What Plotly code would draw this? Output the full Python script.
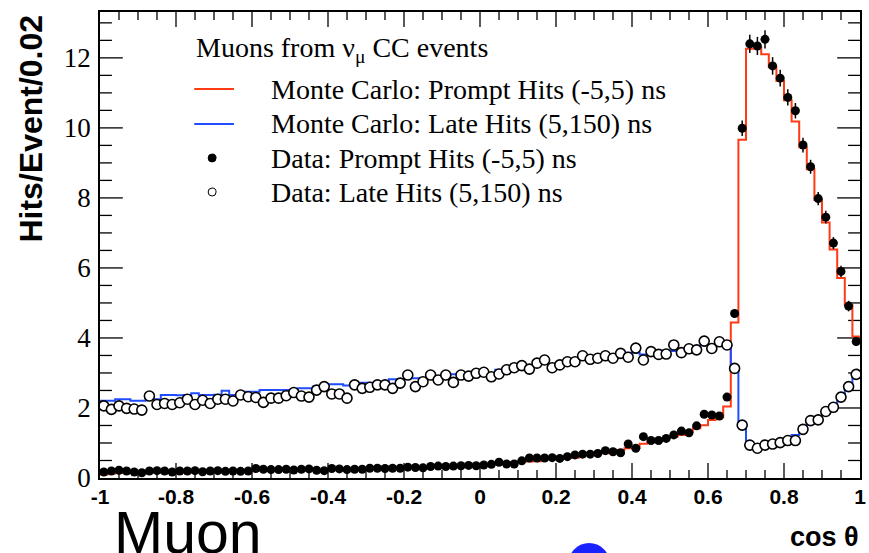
import numpy as np
import plotly.graph_objects as go

# ---------------- data (cos theta bins of width 0.02 from -1 to 1) ----------------
bin_low = -1.0
bin_width = 0.02
n_bins = 100

mc_prompt = [
    0.10, 0.13, 0.14, 0.14, 0.14, 0.14, 0.15, 0.15, 0.15, 0.15,
    0.15, 0.15, 0.16, 0.16, 0.16, 0.16, 0.17, 0.17, 0.17, 0.17,
    0.21, 0.21, 0.21, 0.21, 0.21, 0.21, 0.21, 0.21, 0.22, 0.22,
    0.25, 0.25, 0.25, 0.27, 0.28, 0.28, 0.28, 0.32, 0.32, 0.32,
    0.31, 0.31, 0.32, 0.32, 0.32, 0.34, 0.34, 0.34, 0.37, 0.38,
    0.39, 0.39, 0.40, 0.45, 0.46, 0.47, 0.47, 0.48, 0.53, 0.55,
    0.56, 0.57, 0.58, 0.66, 0.68, 0.70, 0.71, 0.72, 0.80, 0.85,
    0.86, 0.98, 1.02, 1.06, 1.14, 1.18, 1.23, 1.32, 1.42, 1.51,
    1.66, 1.73, 2.04, 4.44, 9.66, 12.26, 12.30, 12.10, 11.73, 11.34,
    10.79, 10.18, 9.45, 8.82, 7.94, 7.30, 6.53, 5.71, 4.94, 4.04,
]

mc_late = [
    2.21, 2.21, 2.25, 2.25, 2.21, 2.21, 2.25, 2.25, 2.37, 2.37,
    2.36, 2.37, 2.42, 2.37, 2.37, 2.38, 2.49, 2.37, 2.44, 2.46,
    2.46, 2.51, 2.51, 2.51, 2.51, 2.52, 2.56, 2.56, 2.61, 2.62,
    2.68, 2.68, 2.64, 2.72, 2.72, 2.72, 2.72, 2.72, 2.82, 2.82,
    2.85, 2.85, 2.78, 2.91, 2.91, 2.96, 2.96, 2.93, 2.99, 3.04,
    3.03, 2.95, 3.09, 3.09, 3.15, 3.15, 3.15, 3.32, 3.28, 3.23,
    3.23, 3.35, 3.35, 3.39, 3.39, 3.45, 3.45, 3.40, 3.51, 3.58,
    3.58, 3.53, 3.61, 3.61, 3.64, 3.63, 3.66, 3.72, 3.77, 3.82,
    3.72, 3.82, 3.77, 3.09, 1.58, 0.94, 0.93, 0.93, 0.95, 0.99,
    1.10, 1.23, 1.47, 1.61, 1.75, 1.90, 2.09, 2.32, 2.56, 2.91,
]

data_prompt = [
    0.17, 0.20, 0.22, 0.20, 0.17, 0.15, 0.20, 0.21, 0.20, 0.17,
    0.20, 0.20, 0.21, 0.18, 0.20, 0.21, 0.19, 0.20, 0.19, 0.20,
    0.27, 0.25, 0.24, 0.24, 0.25, 0.23, 0.25, 0.26, 0.22, 0.21,
    0.27, 0.26, 0.24, 0.25, 0.25, 0.28, 0.28, 0.27, 0.28, 0.28,
    0.31, 0.30, 0.29, 0.33, 0.34, 0.33, 0.34, 0.35, 0.36, 0.35,
    0.37, 0.39, 0.45, 0.40, 0.40, 0.49, 0.57, 0.57, 0.57, 0.58,
    0.56, 0.61, 0.66, 0.68, 0.68, 0.70, 0.78, 0.75, 0.72, 0.97,
    0.85, 1.18, 1.07, 1.07, 1.13, 1.23, 1.34, 1.29, 1.49, 1.82,
    1.80, 1.77, 2.31, 4.70, 9.99, 12.40, 12.34, 12.53, 11.77, 11.42,
    10.87, 10.49, 9.51, 8.89, 7.98, 7.45, 6.71, 5.90, 4.91, 3.90,
]

data_prompt_err = [
    0.02, 0.02, 0.02, 0.02, 0.02, 0.02, 0.02, 0.02, 0.02, 0.02,
    0.02, 0.02, 0.02, 0.02, 0.02, 0.02, 0.02, 0.02, 0.02, 0.02,
    0.02, 0.02, 0.02, 0.02, 0.02, 0.02, 0.02, 0.02, 0.02, 0.02,
    0.02, 0.02, 0.02, 0.02, 0.02, 0.02, 0.02, 0.02, 0.02, 0.02,
    0.02, 0.02, 0.02, 0.02, 0.02, 0.02, 0.02, 0.02, 0.02, 0.02,
    0.02, 0.02, 0.02, 0.02, 0.02, 0.02, 0.02, 0.02, 0.02, 0.02,
    0.03, 0.03, 0.03, 0.03, 0.03, 0.03, 0.03, 0.03, 0.03, 0.03,
    0.03, 0.03, 0.03, 0.03, 0.03, 0.05, 0.05, 0.05, 0.05, 0.05,
    0.05, 0.05, 0.05, 0.10, 0.22, 0.26, 0.26, 0.26, 0.25, 0.24,
    0.23, 0.22, 0.21, 0.20, 0.19, 0.18, 0.17, 0.16, 0.15, 0.13,
]

data_late = [
    2.06, 1.96, 2.06, 1.99, 1.97, 1.94, 2.34, 2.10, 2.13, 2.10,
    2.15, 2.25, 2.10, 2.22, 2.13, 2.25, 2.25, 2.20, 2.37, 2.32,
    2.30, 2.16, 2.28, 2.28, 2.35, 2.44, 2.34, 2.31, 2.51, 2.61,
    2.40, 2.40, 2.28, 2.66, 2.56, 2.59, 2.66, 2.66, 2.56, 2.71,
    2.94, 2.61, 2.75, 2.94, 2.80, 2.94, 2.73, 2.94, 2.91, 2.99,
    3.02, 2.89, 2.97, 3.09, 3.15, 3.21, 3.11, 3.28, 3.37, 3.15,
    3.23, 3.32, 3.32, 3.49, 3.39, 3.42, 3.49, 3.42, 3.56, 3.45,
    3.71, 3.37, 3.61, 3.53, 3.54, 3.80, 3.58, 3.69, 3.66, 3.91,
    3.70, 3.89, 3.80, 3.13, 1.51, 0.94, 0.85, 0.94, 0.97, 1.01,
    1.07, 1.07, 1.39, 1.64, 1.66, 1.90, 2.02, 2.31, 2.61, 2.96,
]

x_tick_vals = [-1, -0.8, -0.6, -0.4, -0.2, 0, 0.2, 0.4, 0.6, 0.8, 1]
x_tick_text = ["-1", "-0.8", "-0.6", "-0.4", "-0.2", "0", "0.2", "0.4", "0.6", "0.8", "1"]
y_tick_vals = [0, 2, 4, 6, 8, 10, 12]
y_tick_text = ["0", "2", "4", "6", "8", "10", "12"]
x_minor_step = 0.05
y_minor_step = 0.5

legend_title = "Muons from \u03bd<sub>\u03bc</sub> CC events"
names = [
    "Monte Carlo: Prompt Hits (-5,5) ns",
    "Monte Carlo: Late Hits (5,150) ns",
    "Data: Prompt Hits (-5,5) ns",
    "Data: Late Hits (5,150) ns",
]

for arr in (mc_prompt, mc_late, data_prompt, data_prompt_err, data_late):
    assert len(arr) == n_bins

edges = np.round(bin_low + bin_width * np.arange(n_bins + 1), 4)
centers = np.round(bin_low + bin_width * (np.arange(n_bins) + 0.5), 4)
X_MIN, X_MAX = -1.0, 1.0
Y_MIN, Y_MAX = 0.0, 13.31
x_minor_vals = [float(v) for v in np.round(np.arange(-1, 1.0001, x_minor_step), 4)
                if abs(v / 0.2 - round(v / 0.2)) > 1e-6 and -1 < v < 1]
y_minor_vals = [float(v) for v in np.round(np.arange(0, Y_MAX, y_minor_step), 4) if v % 2 != 0]

RED = "#ff3a14"
BLUE = "#1f4cff"

W, H = 869, 553
L, R, T, B = 100, 3, 12, 75
pw, ph = W - L - R, H - T - B
x_per_px = (X_MAX - X_MIN) / pw
y_per_px = (Y_MAX - Y_MIN) / ph

def px2x(px):
    return (px - L) / pw

def py2y(py):
    return (H - B - py) / ph

fig = go.Figure()

# ---- tick marks (ROOT style, inward on all four sides), built from the tick values ----
def x_tick_segments(vals, length_px):
    xs, ys = [], []
    d = length_px * y_per_px
    for v in vals:
        xs += [v, v, None, v, v, None]
        ys += [Y_MIN, Y_MIN + d, None, Y_MAX, Y_MAX - d, None]
    return xs, ys

def y_tick_segments(vals, length_px):
    xs, ys = [], []
    d = length_px * x_per_px
    for v in vals:
        xs += [X_MIN, X_MIN + d, None, X_MAX, X_MAX - d, None]
        ys += [v, v, None, v, v, None]
    return xs, ys

tick_sets = [
    x_tick_segments([v for v in x_tick_vals if X_MIN < v < X_MAX], 15),
    x_tick_segments(x_minor_vals, 8),
    y_tick_segments([v for v in y_tick_vals if v > Y_MIN], 23),
    y_tick_segments(y_minor_vals, 12),
]
for xs, ys in tick_sets:
    fig.add_trace(go.Scatter(
        x=xs, y=ys, mode="lines", line=dict(color="black", width=1.3),
        hoverinfo="skip", showlegend=False, cliponaxis=False,
    ))

fig.add_trace(go.Scatter(
    x=edges, y=list(mc_prompt) + [mc_prompt[-1]], mode="lines", line_shape="hv",
    line=dict(color=RED, width=2), name=names[0], showlegend=False,
))
fig.add_trace(go.Scatter(
    x=edges, y=list(mc_late) + [mc_late[-1]], mode="lines", line_shape="hv",
    line=dict(color=BLUE, width=2), name=names[1], showlegend=False,
))
fig.add_trace(go.Scatter(
    x=centers, y=data_late, mode="markers",
    marker=dict(symbol="circle", size=10, color="white", line=dict(color="black", width=1.6)),
    name=names[3], showlegend=False,
))
fig.add_trace(go.Scatter(
    x=centers, y=data_prompt, mode="markers",
    error_y=dict(type="data", array=data_prompt_err, visible=True, color="black", thickness=1.5, width=0),
    marker=dict(symbol="circle", size=9, color="black"),
    name=names[2], showlegend=False,
))

fig.update_layout(
    width=W, height=H,
    margin=dict(l=L, r=R, t=T, b=B, pad=0),
    paper_bgcolor="white", plot_bgcolor="white",
    showlegend=False,
    xaxis=dict(
        range=[X_MIN, X_MAX], tickmode="array", tickvals=x_tick_vals, ticktext=x_tick_text,
        ticks="", showline=True, linecolor="black", linewidth=1.5, mirror=True,
        showgrid=False, zeroline=False, ticklabeloverflow="allow", ticklabelstandoff=-1,
        tickfont=dict(family="Liberation Sans", size=21, color="black", weight="bold"),
    ),
    yaxis=dict(
        range=[Y_MIN, Y_MAX], tickmode="array", tickvals=y_tick_vals, ticktext=y_tick_text,
        ticks="", showline=True, linecolor="black", linewidth=1.5, mirror=True,
        showgrid=False, zeroline=False, ticklabeloverflow="allow", ticklabelstandoff=2,
        tickfont=dict(family="Liberation Serif", size=27, color="black"),
    ),
)

# ---- legend (drawn as annotations and shapes to match the original layout) ----
LEG_FONT = dict(family="Liberation Serif", size=28, color="black")
fig.add_annotation(
    text=legend_title, showarrow=False, xref="paper", yref="paper",
    x=px2x(195), y=py2y(50), xanchor="left", yanchor="middle", font=LEG_FONT,
)
row_y = [89, 124, 158, 192]
for name, ry in zip(names, row_y):
    fig.add_annotation(
        text=name, showarrow=False, xref="paper", yref="paper",
        x=px2x(270), y=py2y(ry), xanchor="left", yanchor="middle", font=LEG_FONT,
    )
fig.add_shape(type="line", xref="paper", yref="paper",
              x0=px2x(195), x1=px2x(235), y0=py2y(row_y[0]), y1=py2y(row_y[0]),
              line=dict(color=RED, width=2))
fig.add_shape(type="line", xref="paper", yref="paper",
              x0=px2x(195), x1=px2x(235), y0=py2y(row_y[1]), y1=py2y(row_y[1]),
              line=dict(color=BLUE, width=2))
fig.add_shape(type="circle", xref="paper", yref="paper",
              x0=px2x(209), x1=px2x(217), y0=py2y(row_y[2] + 4), y1=py2y(row_y[2] - 4),
              fillcolor="black", line=dict(color="black", width=1))
fig.add_shape(type="circle", xref="paper", yref="paper",
              x0=px2x(209), x1=px2x(217), y0=py2y(row_y[3] + 4), y1=py2y(row_y[3] - 4),
              fillcolor="white", line=dict(color="black", width=1))

fig.add_annotation(
    text="<b>Hits/Event/0.02</b>", textangle=-90, showarrow=False,
    xref="paper", yref="paper", x=px2x(30), y=py2y(13), xanchor="center", yanchor="top",
    font=dict(family="Liberation Sans", size=32, color="black"),
)
fig.add_annotation(
    text="<b>cos \u03b8</b>", showarrow=False,
    xref="paper", yref="paper", x=px2x(867), y=py2y(537), xanchor="right", yanchor="middle",
    font=dict(family="Liberation Sans", size=27, color="black"),
)
fig.add_annotation(
    text="Muon", showarrow=False,
    xref="paper", yref="paper", x=px2x(112), y=py2y(533), xanchor="left", yanchor="middle",
    font=dict(family="Liberation Sans", size=59, color="black"),
)
fig.add_shape(
    type="circle", xref="paper", yref="paper",
    x0=px2x(572), x1=px2x(614), y0=py2y(585), y1=py2y(543),
    fillcolor="#1a22ff", line=dict(width=0), layer="above",
)

fig.write_html("out.html")
